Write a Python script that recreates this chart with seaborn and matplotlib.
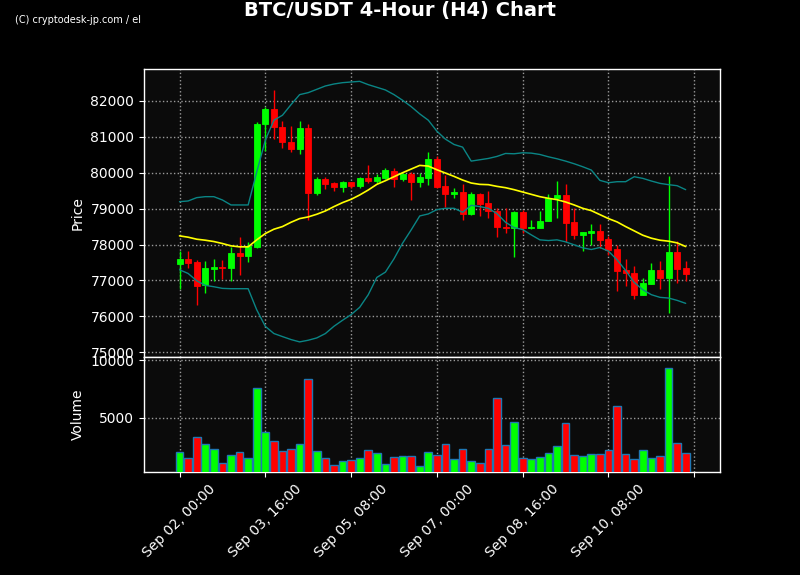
import numpy as np
import matplotlib
matplotlib.use("Agg")
import matplotlib.pyplot as plt
import seaborn as sns

# BTC/USDT 4h candles starting Sep 02 00:00 (60 bars)
opens = [77463, 77593, 77509, 76861, 77315, 77370, 77352, 77759, 77685, 77944,
         81352, 81787, 81287, 80870, 80657, 81259, 79426, 79815, 79704, 79602,
         79731, 79630, 79852, 79769, 79852, 80056, 79824, 79954, 79741, 79852,
         80370, 79620, 79417, 79454, 78843, 79398, 79148, 78944, 78500, 78463,
         78917, 78454, 78463, 78657, 79296, 79370, 78620, 78269, 78324, 78370,
         78148, 77870, 77296, 77204, 76602, 76907, 77296, 77065, 77796, 77343]
highs = [77824, 77806, 77574, 77528, 77602, 77556, 77917, 78222, 78083, 81417,
         81833, 82296, 81444, 81306, 81444, 81361, 79889, 79889, 79750, 79778,
         79750, 79889, 80213, 79954, 80139, 80139, 80000, 80009, 79991, 80583,
         80463, 79935, 79583, 79676, 79454, 79426, 79491, 79028, 79028, 78944,
         78963, 78694, 78935, 79417, 79778, 79694, 79028, 78352, 78583, 78583,
         78241, 77991, 77593, 77389, 77065, 77481, 77528, 79907, 78111, 77528]
lows = [76768, 77343, 76306, 76648, 76972, 77046, 76991, 77139, 77509, 77898,
        80602, 80926, 80694, 80583, 80528, 78694, 79380, 79537, 79500, 79472,
        79565, 79583, 79722, 79722, 79815, 79611, 79769, 79241, 79611, 79657,
        79570, 79037, 79306, 78685, 78815, 78806, 78750, 78222, 78315, 77639,
        78315, 78444, 78454, 78648, 78750, 78083, 78157, 77806, 77991, 77898,
        77713, 76713, 76833, 76491, 76593, 76898, 76769, 76083, 76917, 76972]
closes = [77592, 77491, 76852, 77343, 77370, 77352, 77759, 77685, 77963, 81370,
          81787, 81269, 80852, 80648, 81259, 79435, 79815, 79685, 79602, 79731,
          79630, 79843, 79769, 79880, 80065, 79833, 79954, 79741, 79870, 80370,
          79593, 79407, 79454, 78852, 79398, 79130, 78935, 78491, 78463, 78917,
          78463, 78491, 78667, 79306, 79370, 78602, 78269, 78343, 78370, 78130,
          77852, 77269, 77194, 76602, 76926, 77296, 77065, 77796, 77315, 77176]
volumes = [2035, 1512, 3314, 2733, 2297, 1076, 1773, 2035, 1512, 7616,
           3779, 2994, 2122, 2297, 2733, 8401, 2122, 1512, 901, 1250,
           1337, 1512, 2209, 1948, 988, 1599, 1686, 1686, 814, 2035,
           1773, 2733, 1424, 2297, 1250, 1076, 2297, 6744, 2645, 4651,
           1512, 1424, 1599, 1948, 2558, 4564, 1773, 1686, 1860, 1860,
           2209, 6047, 1860, 1424, 2209, 1512, 1686, 9361, 2820, 1948]

# bollinger bands as shown on the chart
bb_upper = [79194, 79213, 79306, 79333, 79333, 79241, 79102, 79102, 79102, 80019,
            80907, 81463, 81602, 81898, 82176, 82231, 82324, 82417, 82472, 82509,
            82528, 82546, 82454, 82380, 82306, 82176, 82019, 81843, 81639, 81463,
            81157, 80935, 80787, 80713, 80324, 80361, 80398, 80454, 80537, 80528,
            80556, 80546, 80509, 80444, 80389, 80324, 80250, 80167, 80074, 79787,
            79722, 79750, 79750, 79889, 79843, 79769, 79704, 79667, 79639, 79528]
bb_mid = [78241, 78204, 78148, 78120, 78083, 78028, 77963, 77935, 77935, 78130,
          78306, 78426, 78500, 78620, 78722, 78769, 78843, 78935, 79056, 79167,
          79259, 79380, 79519, 79676, 79778, 79889, 80000, 80102, 80204, 80185,
          80083, 79991, 79898, 79796, 79713, 79676, 79667, 79620, 79583, 79528,
          79463, 79398, 79333, 79287, 79250, 79185, 79102, 79009, 78944, 78833,
          78722, 78630, 78500, 78380, 78259, 78176, 78120, 78093, 78046, 77944]
bb_lower = [77296, 77194, 76991, 76861, 76824, 76778, 76769, 76769, 76769, 76180,
            75720, 75520, 75435, 75352, 75287, 75333, 75398, 75519, 75722, 75889,
            76046, 76250, 76602, 77083, 77231, 77602, 78037, 78407, 78796, 78852,
            78972, 79009, 79009, 78898, 79093, 79056, 79009, 78861, 78620, 78472,
            78417, 78269, 78130, 78111, 78130, 78074, 77991, 77907, 77861, 77917,
            77815, 77574, 77278, 76944, 76741, 76602, 76528, 76509, 76444, 76361]

tick_pos = [0, 10, 20, 30, 40, 50, 60]
tick_labels = ["Sep 02, 00:00", "Sep 03, 16:00", "Sep 05, 08:00", "Sep 07, 00:00",
               "Sep 08, 16:00", "Sep 10, 08:00", ""]

sns.set_theme(style="darkgrid", rc={
    "figure.facecolor": "black",
    "axes.facecolor": "#0b0b0b",
    "axes.edgecolor": "white",
    "axes.labelcolor": "white",
    "axes.linewidth": 1.0,
    "text.color": "white",
    "xtick.color": "white",
    "ytick.color": "white",
    "xtick.bottom": True,
    "ytick.left": True,
    "xtick.major.size": 3.5,
    "ytick.major.size": 3.5,
    "xtick.major.width": 0.8,
    "ytick.major.width": 0.8,
    "xtick.labelsize": 10,
    "ytick.labelsize": 10,
    "axes.labelsize": 10,
    "grid.color": "#9a9a9a",
    "grid.linestyle": ":",
    "grid.linewidth": 1.0,
})
plt.rcParams["font.family"] = ["DejaVu Sans"]

o = np.array(opens)
c = np.array(closes)
x = np.arange(len(o))
colors = np.where(c >= o, "#00ff00", "#ff0000")

fig = plt.figure(figsize=(8, 5.75), dpi=100)
ax = fig.add_axes([0.18, 0.38, 0.72, 0.50])
vax = fig.add_axes([0.18, 0.179, 0.72, 0.200], sharex=ax)

# candles
ax.vlines(x, lows, highs, colors=colors, linewidth=1.0, zorder=2)
ax.bar(x, np.abs(c - o), bottom=np.minimum(o, c), width=0.7, color=colors,
       edgecolor=colors, linewidth=0.6, zorder=3)

# bands
sns.lineplot(x=x, y=bb_upper, ax=ax, color="#0a8585", linewidth=1.0, zorder=4)
sns.lineplot(x=x, y=bb_lower, ax=ax, color="#0a8585", linewidth=1.0, zorder=4)
sns.lineplot(x=x, y=bb_mid, ax=ax, color="#ffff00", linewidth=1.2, zorder=5)

ax.set_xlim(-4.14, 63.0)
ax.set_ylim(74880, 82890)
ax.set_yticks(range(75000, 83000, 1000))
ax.set_ylabel("Price")
ax.set_xticks(tick_pos)
ax.tick_params(axis="x", bottom=False, labelbottom=False)

# volume
vax.bar(x, volumes, width=0.9, color=colors, edgecolor="#1f77b4", linewidth=1.0, zorder=3)
vax.set_ylim(0.3 * min(volumes), 1.1 * max(volumes))
vax.set_yticks([5000, 10000])
vax.set_ylabel("Volume")
vax.set_xticks(tick_pos)
vax.set_xticklabels(tick_labels, rotation=45)

fig.text(0.5, 0.981, "BTC/USDT 4-Hour (H4) Chart", ha="center", va="center",
         fontsize=14, fontweight="bold", color="white")
fig.text(0.019, 0.965, "(C) cryptodesk-jp.com / el", ha="left", va="center",
         fontsize=7, color="white", family=["Liberation Sans Narrow", "DejaVu Sans"])

fig.savefig("out.png", dpi=100, facecolor="black")
